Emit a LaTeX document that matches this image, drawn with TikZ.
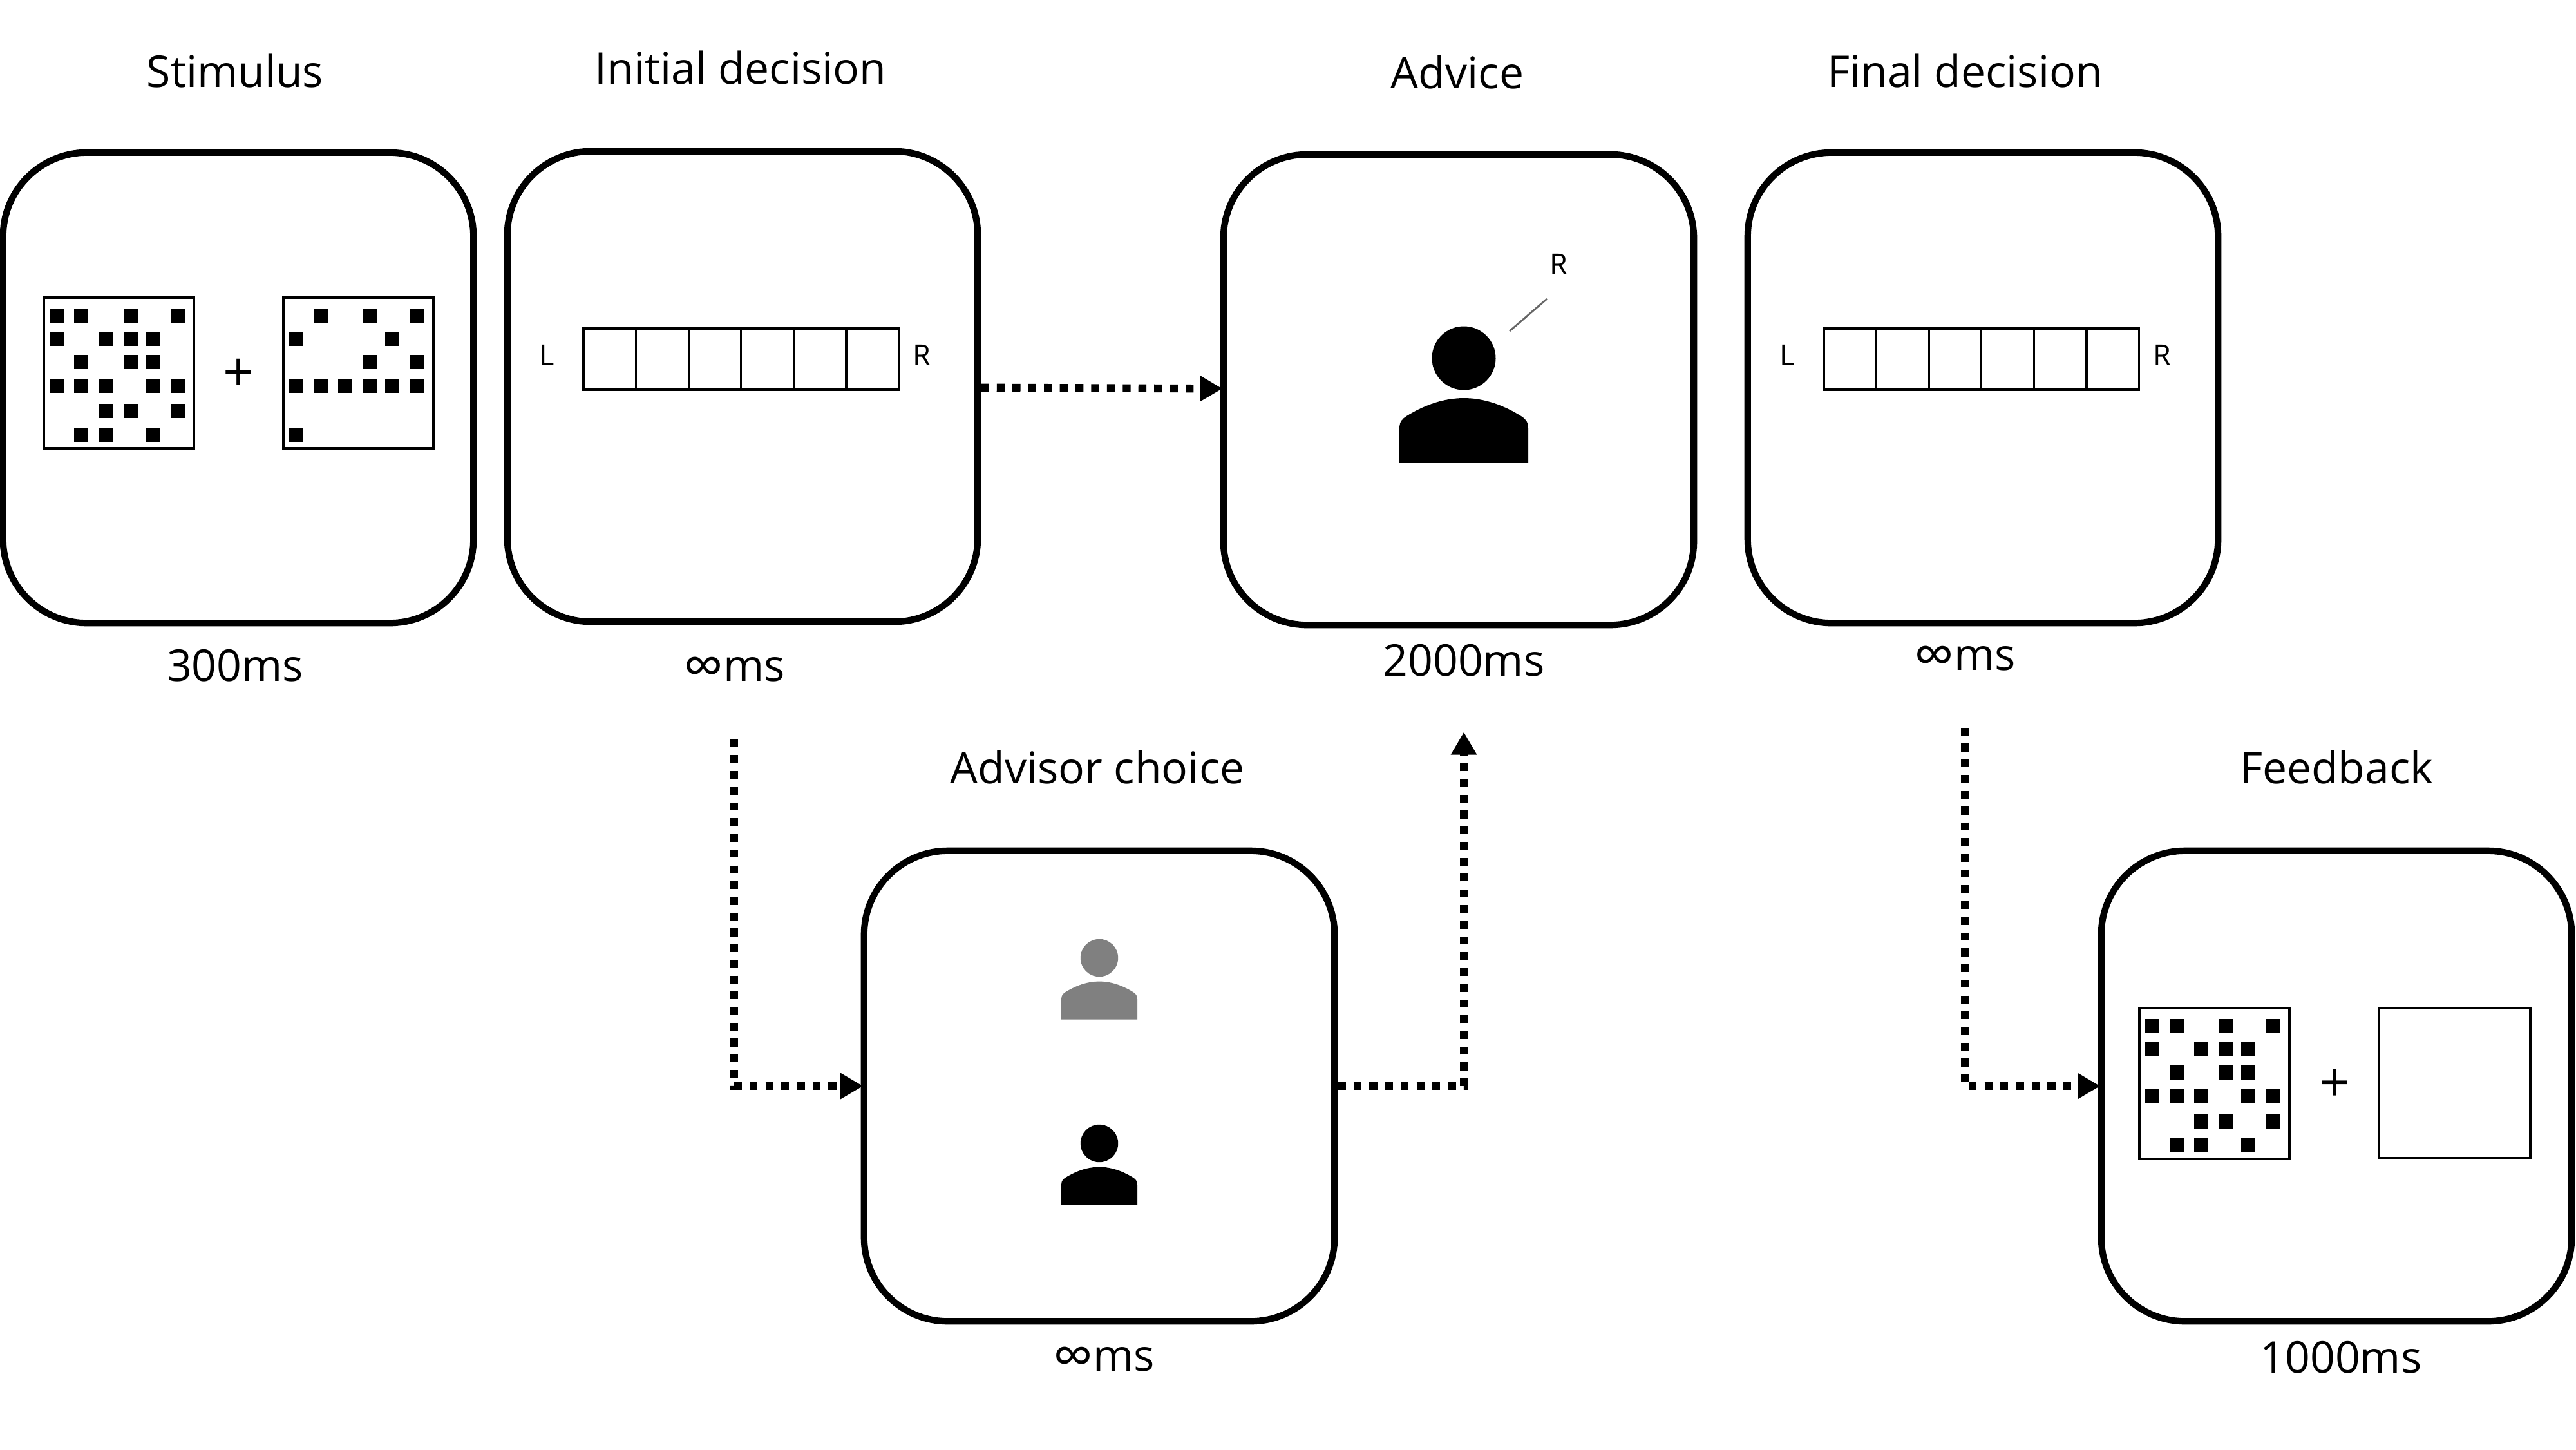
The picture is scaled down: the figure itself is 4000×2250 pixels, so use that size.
\documentclass[tikz,border=0pt]{standalone}
\usepackage{fontspec}
\setmainfont{Open Sans}
\usetikzlibrary{positioning,arrows.meta,calc}

\newcommand{\infsign}{\raisebox{-2.2pt}[0pt][0pt]{\fontsize{25}{24}\selectfont ∞}}

\tikzset{
  screen/.style={draw, line width=2.9pt, rounded corners=1.3cm, minimum size=7.3cm, inner sep=0pt},
  heading/.style={font=\fontsize{19.3}{24}\selectfont, inner sep=0pt},
  small/.style={font=\fontsize{12.8}{15}\selectfont, inner sep=0pt},
  fixmark/.style={font=\fontsize{24}{28}\selectfont, inner sep=0pt},
  flow/.style={line width=3.5pt, dash pattern=on 3.5pt off 3.45pt, shorten >=-1pt, -{Triangle[length=0.35cm,width=0.38cm]}},
  gridbox/.style={draw, line width=1.1pt, fill=white},
  barcell/.style={draw, line width=0.9pt},
  fullgrid/.pic={
    \draw[gridbox] (0,0) rectangle (233,234);
    \foreach \r/\clist in {17/{9,47,124,197},53/{9,85,124,158},89/{47,124,158},
                           126/{9,47,85,158,197},165/{85,124,197},202/{47,85,158}}
      \foreach \c in \clist \fill (\c,\r) rectangle +(22,22);
  },
  sparsegrid/.pic={
    \draw[gridbox] (0,0) rectangle (233,234);
    \foreach \r/\clist in {17/{47,124,197},53/{9,158},89/{124,197},
                           126/{9,47,85,124,158,197},202/{9}}
      \foreach \c in \clist \fill (\c,\r) rectangle +(22,22);
  },
  responsebar/.pic={
    \foreach \i in {0,...,5} \draw[barcell] (81.6*\i,0) rectangle +(81.6,95);
    \node[small] at (-57,41) {L};
    \node[small] at (525,41) {R};
  },
  person/.pic={
    \fill[pic actions] (0,0) circle (49.5);
    \fill[pic actions] (-100,162) -- (-100,109) .. controls (-100,98) and (-95,94) .. (-89,90)
      .. controls (-60,72) and (-30,62) .. (0,62) .. controls (30,62) and (60,72) .. (89,90)
      .. controls (95,94) and (100,98) .. (100,109) -- (100,162) -- cycle;
  }
}

\begin{document}
\begin{tikzpicture}[x=0.01cm,y=-0.01cm]
  \useasboundingbox (0,0) rectangle (4000,2250);

  % screens
  \node[screen] (stimulus) at (370,602) {};
  \node[screen] (initial) at (1153,600) {};
  \node[screen] (advice) at (2265,605) {};
  \node[screen] (final) at (3079,602) {};
  \node[screen] (advisor) at (1707,1686) {};
  \node[screen] (feedback) at (3628,1686) {};

  % titles and durations
  \node[heading] (stimulustitle) at (365,110) {Stimulus};
  \node[heading] (initialtitle) at (1150,105) {Initial decision};
  \node[heading] (advicetitle) at (2263,112) {Advice};
  \node[heading] (finaltitle) at (3051,110) {Final decision};
  \node[heading] (advisortitle) at (1704,1191) {Advisor choice};
  \node[heading] (feedbacktitle) at (3628,1191) {Feedback};
  \node[heading] (stimulustime) at (365,1033) {300ms};
  \node[heading] (initialtime) at (1140,1039) {\infsign ms};
  \node[heading] (advicetime) at (2273,1025) {2000ms};
  \node[heading] (finaltime) at (3051,1022) {\infsign ms};
  \node[heading] (advisortime) at (1714,2110) {\infsign ms};
  \node[heading] (feedbacktime) at (3635,2107) {1000ms};

  % stimulus and feedback content
  \pic at (68,462) {fullgrid};
  \pic at (440,462) {sparsegrid};
  \node[fixmark] (stimulusfix) at (371,582) {+};
  \pic at (3322,1565) {fullgrid};
  \draw[gridbox] (3694,1565) rectangle (3929,1798);
  \node[fixmark] (feedbackfix) at (3626,1685) {+};

  % response scales
  \pic at (906,510) {responsebar};
  \pic at (2832,510) {responsebar};

  % advisors
  \pic[fill=black] at (2273,556) {person};
  \node[small] (adviceR) at (2420,410) {R};
  \coordinate (pointerA) at (2344,514);
  \coordinate (pointerB) at (2402,464);
  \draw[line width=0.8pt, black!60] (pointerA) -- (pointerB);
  \pic[scale=0.59, fill=black!50] at (1707,1487) {person};
  \pic[scale=0.59, fill=black] at (1707,1775) {person};

  % arrows
  \coordinate (initialout) at (1140,1148);
  \coordinate (advicein) at (2273,1140);
  \coordinate (finalout) at (3051,1130);
  \draw[flow] (initial) -- (advice);
  \draw[flow] (initialout) |- (advisor);
  \draw[flow] (advisor) -| (advicein);
  \draw[flow] (finalout) |- (feedback);
\end{tikzpicture}
\end{document}
